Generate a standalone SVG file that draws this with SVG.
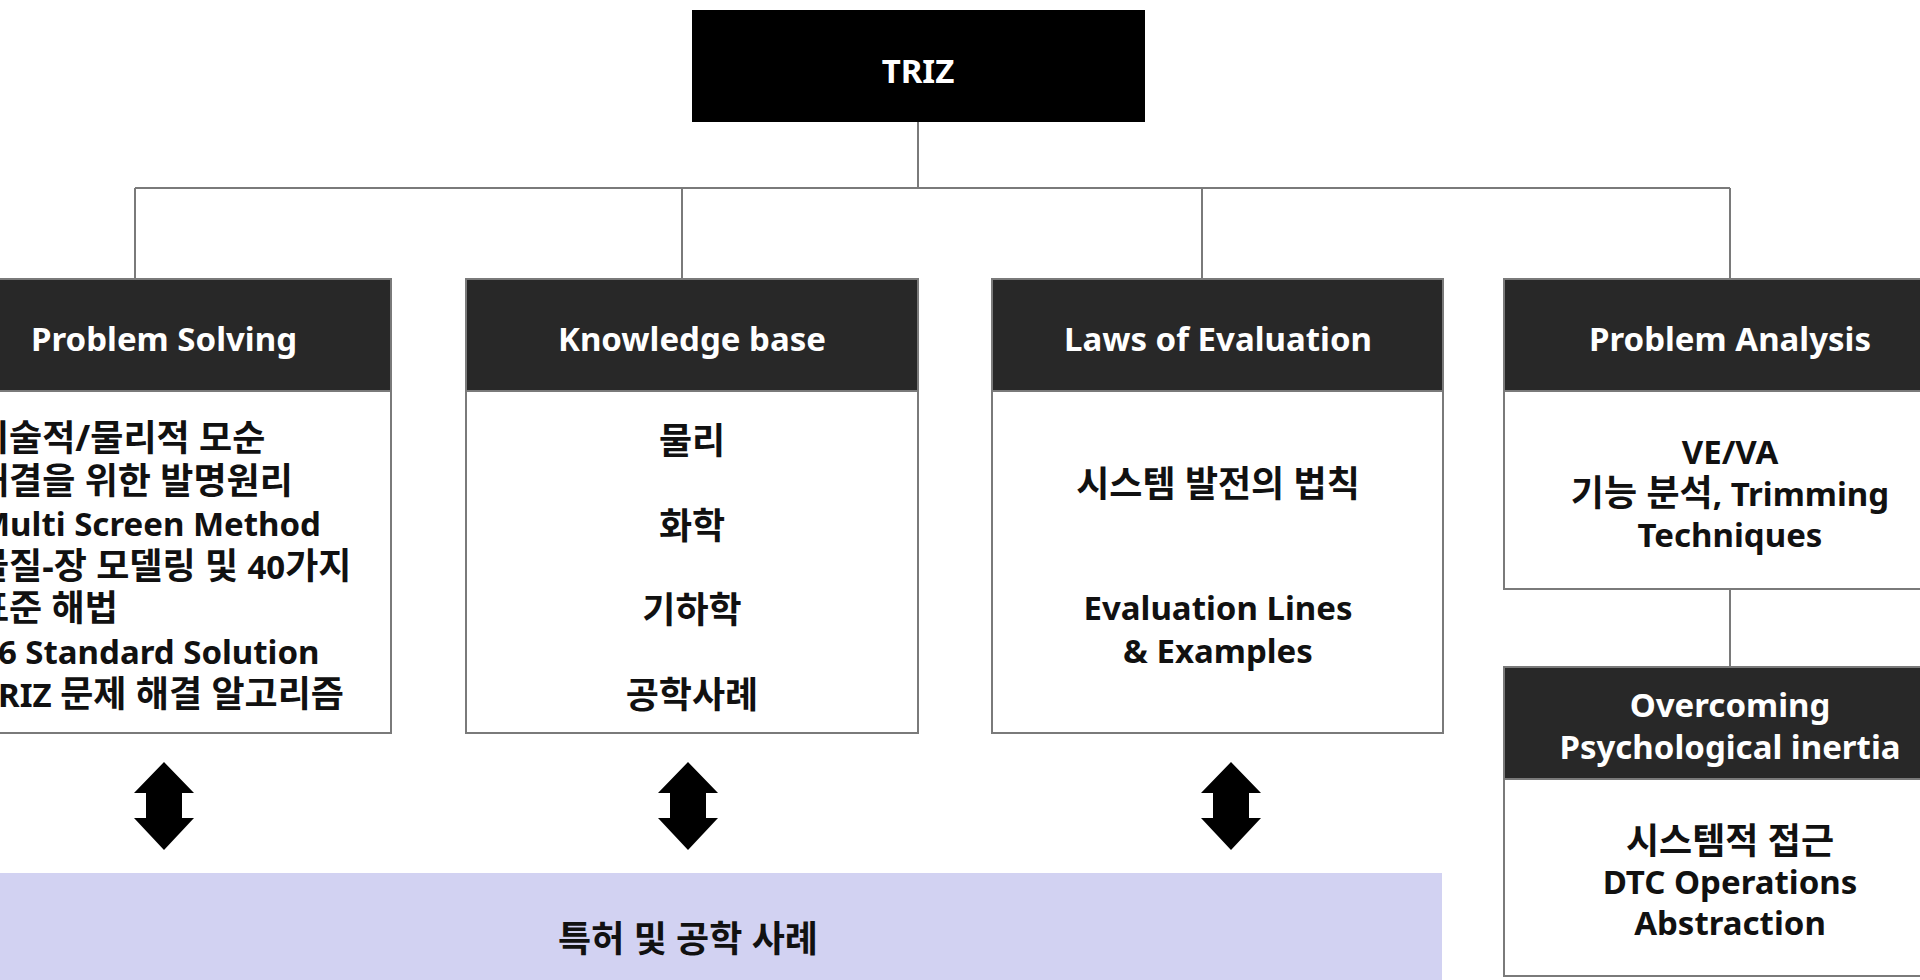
<svg xmlns="http://www.w3.org/2000/svg" width="1920" height="980" viewBox="0 0 1920 980">
  <style>
    text { font-family: "Noto Sans", "Noto Sans CJK KR", sans-serif; font-weight: 700; font-size: 33px; text-anchor: middle; }
    .ko { font-size: 36px; }
    .hd { fill: #ffffff; }
    .bd { fill: #111111; }
    .left { text-anchor: start; }
    .head { fill: #282828; stroke: #7a7a7a; stroke-width: 2; }
    .body { fill: #ffffff; stroke: #7a7a7a; stroke-width: 2; }
    .wire { fill: none; stroke: #7a7a7a; stroke-width: 2; }
  </style>
  <defs>
    <path id="dbl-arrow" d="M0,762 L30,793 L18,793 L18,818 L30,818 L0,850 L-30,818 L-18,818 L-18,793 L-30,793 Z" fill="#000000"/>
  </defs>

  <rect x="0" y="0" width="1920" height="980" fill="#ffffff"/>

  <!-- tree connectors -->
  <g id="connectors">
    <path class="wire" d="M918,122 V188"/>
    <path class="wire" d="M135,188 H1730"/>
    <path class="wire" d="M135,188 V279"/>
    <path class="wire" d="M682,188 V279"/>
    <path class="wire" d="M1202,188 V279"/>
    <path class="wire" d="M1730,188 V279"/>
    <path class="wire" d="M1730,589 V667"/>
  </g>

  <g id="triz">
    <rect x="692" y="10" width="453" height="112" fill="#000000"/>
    <text class="hd" x="918" y="83">TRIZ</text>
  </g>

  <g id="problem-solving">
    <rect class="head" x="-63" y="279" width="454" height="112"/>
    <rect class="body" x="-63" y="391" width="454" height="342"/>
    <text class="hd" x="164" y="351">Problem Solving</text>
    <text class="bd left ko" x="-24" y="451">기술적/물리적 모순</text>
    <text class="bd left ko" x="-24" y="494">해결을 위한 발명원리</text>
    <text class="bd left" x="-21" y="536">Multi Screen Method</text>
    <text class="bd left" x="-24" y="579"><tspan class="ko">물질-장 모델링 및 </tspan>40<tspan class="ko">가지</tspan></text>
    <text class="bd left ko" x="-24" y="621">표준 해법</text>
    <text class="bd left" x="-21" y="664">76 Standard Solution</text>
    <text class="bd left" x="-21" y="707">TRIZ <tspan class="ko">문제 해결 알고리즘</tspan></text>
  </g>

  <g id="knowledge-base">
    <rect class="head" x="466" y="279" width="452" height="112"/>
    <rect class="body" x="466" y="391" width="452" height="342"/>
    <text class="hd" x="692" y="351">Knowledge base</text>
    <text class="bd ko" x="692" y="454">물리</text>
    <text class="bd ko" x="692" y="539">화학</text>
    <text class="bd ko" x="692" y="623">기하학</text>
    <text class="bd ko" x="692" y="708">공학사례</text>
  </g>

  <g id="laws-of-evaluation">
    <rect class="head" x="992" y="279" width="451" height="112"/>
    <rect class="body" x="992" y="391" width="451" height="342"/>
    <text class="hd" x="1218" y="351">Laws of Evaluation</text>
    <text class="bd ko" x="1218" y="497">시스템 발전의 법칙</text>
    <text class="bd" x="1218" y="620">Evaluation Lines</text>
    <text class="bd" x="1218" y="663">&amp; Examples</text>
  </g>

  <g id="problem-analysis">
    <rect class="head" x="1504" y="279" width="452" height="112"/>
    <rect class="body" x="1504" y="391" width="452" height="198"/>
    <text class="hd" x="1730" y="351">Problem Analysis</text>
    <text class="bd" x="1730" y="464">VE/VA</text>
    <text class="bd" x="1730" y="506"><tspan class="ko">기능 분석</tspan>, Trimming</text>
    <text class="bd" x="1730" y="547">Techniques</text>
  </g>

  <g id="psychological-inertia">
    <rect class="head" x="1504" y="667" width="452" height="112"/>
    <rect class="body" x="1504" y="779" width="452" height="197"/>
    <text class="hd" x="1730" y="717">Overcoming</text>
    <text class="hd" x="1730" y="759">Psychological inertia</text>
    <text class="bd ko" x="1730" y="854">시스템적 접근</text>
    <text class="bd" x="1730" y="894">DTC Operations</text>
    <text class="bd" x="1730" y="935">Abstraction</text>
  </g>

  <g id="arrows">
    <use href="#dbl-arrow" x="164"/>
    <use href="#dbl-arrow" x="688"/>
    <use href="#dbl-arrow" x="1231"/>
  </g>

  <g id="patent-cases">
    <rect x="0" y="873" width="1442" height="107" fill="#d2d2f2"/>
    <text class="bd ko" x="688" y="952">특허 및 공학 사례</text>
  </g>
</svg>
